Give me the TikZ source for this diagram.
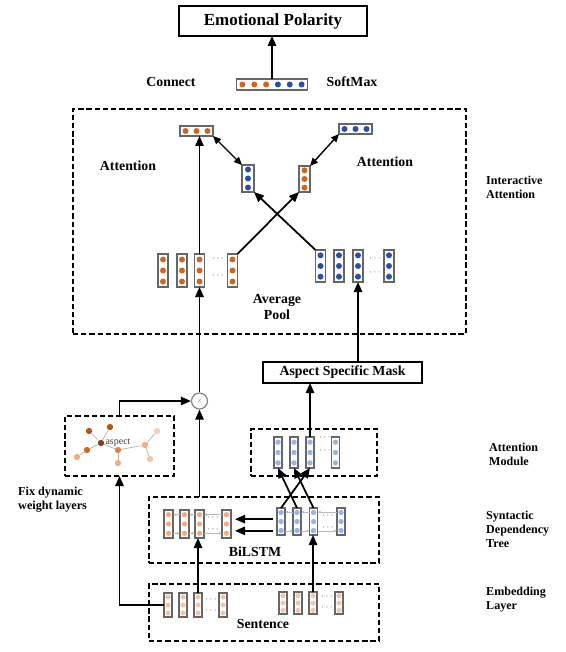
\documentclass[tikz,border=0pt]{standalone}
\usepackage{fontspec}
\setmainfont{Liberation Serif}
\usetikzlibrary{arrows.meta,positioning,calc}
\definecolor{polorange}{HTML}{D2651E}
\definecolor{polblue}{HTML}{2A4FA6}
\definecolor{lightblue}{HTML}{98B4E6}
\definecolor{peach}{HTML}{F0AE80}
\definecolor{palepeach}{HTML}{F4C4A4}
\definecolor{boxgray}{HTML}{666666}
\tikzset{
  lbl/.style={font=\bfseries\fontsize{11.8}{13.5}\selectfont, align=center},
  side/.style={font=\bfseries\fontsize{10.3}{12}\selectfont, align=left, anchor=west, inner sep=0},
  dbox/.style={draw, line width=0.9pt, dash pattern=on 4.5pt off 2.5pt, inner sep=0, outer sep=0},
  sbox/.style={draw, line width=1pt, inner sep=0, outer sep=0, align=center},
  vec/.style={draw=boxgray, fill=white, line width=1pt, inner sep=0, outer sep=0},
  arrow/.style={-{Triangle[length=3mm,width=2.5mm]}, line width=1.5pt},
  darrow/.style={{Triangle[length=2.4mm,width=2.1mm]}-{Triangle[length=2.4mm,width=2.1mm]}, line width=1.2pt},
  link/.style={gray!55, line width=0.5pt, -{Latex[length=0.9mm,width=0.9mm]}},
  etc/.style={font=\fontsize{7}{7}\selectfont, inner sep=0},
  gnode/.style={circle, inner sep=0, minimum size=0.19cm},
}
% dots inside a vector box
\newcommand{\coldots}[4]{%
  \foreach \k in {1,...,#3}{\fill[#2] ($(#1.south)!{(\k-0.5)/#3}!(#1.north)$) circle (#4);}}
\newcommand{\rowdots}[4]{%
  \foreach \k in {1,...,#3}{\fill[#2] ($(#1.west)!{(\k-0.5)/#3}!(#1.east)$) circle (#4);}}

\begin{document}
\begin{tikzpicture}[x=0.03cm, y=-0.03cm]
\useasboundingbox (0,0) rectangle (565,652);

% output
\node[sbox, minimum width=5.64cm, minimum height=0.9cm, font=\bfseries\fontsize{14.5}{16}\selectfont] (pol) at (273,21) {Emotional Polarity};
\node[vec, minimum width=2.13cm, minimum height=0.33cm] (smx) at (272,84.5) {};
\foreach \k in {1,2,3}{\fill[polorange] ($(smx.west)!{(\k-0.5)/6}!(smx.east)$) circle (0.09cm);}
\foreach \k in {4,5,6}{\fill[polblue] ($(smx.west)!{(\k-0.5)/6}!(smx.east)$) circle (0.09cm);}
\node[lbl] (connect) at (171,82) {Connect};
\node[lbl] (softmax) at (352,82) {SoftMax};
\draw[arrow] (smx.north) -- (smx.north |- pol.south);

% interactive attention
\node[dbox, minimum width=11.79cm, minimum height=6.75cm] (ia) at (269.5,221.5) {};
\node[vec, minimum width=0.99cm, minimum height=0.3cm] (otop) at (196.5,131) {};
\rowdots{otop}{polorange}{3}{0.09cm}
\node[vec, minimum width=0.99cm, minimum height=0.3cm] (btop) at (355.5,129) {};
\rowdots{btop}{polblue}{3}{0.09cm}
\node[vec, minimum width=0.36cm, minimum height=0.81cm] (bmid) at (248,178.5) {};
\coldots{bmid}{polblue}{3}{0.09cm}
\node[vec, minimum width=0.33cm, minimum height=0.78cm] (omid) at (304.5,179) {};
\coldots{omid}{polorange}{3}{0.09cm}
\node[lbl] (attl) at (128,166) {Attention};
\node[lbl] (attr) at (385,162) {Attention};

\foreach \n/\x in {o1/163,o2/182,o3/199.5,o4/232.5}{
  \node[vec, minimum width=0.3cm, minimum height=0.99cm] (\n) at (\x,270.5) {};
  \coldots{\n}{polorange}{3}{0.09cm}
}
\node[etc] at (218,259) {$\cdots$};
\node[etc] at (218,276) {$\cdots$};
\foreach \n/\x in {b1/320.5,b2/339,b3/358,b4/389}{
  \node[vec, minimum width=0.3cm, minimum height=0.96cm] (\n) at (\x,266) {};
  \coldots{\n}{polblue}{3}{0.09cm}
}
\node[etc] at (375,259) {$\cdots$};
\node[etc] at (375,273) {$\cdots$};
\node[lbl] (pool) at (277,307) {Average\\Pool};

\draw[arrow] (o3.north) -- (o3.north |- otop.south);
\draw[arrow] (o4.north east) -- (omid.south west);
\draw[arrow] (b1.north west) -- (bmid.south east);
\draw[darrow] (otop.south east) -- (bmid.north west);
\draw[darrow] (omid.north east) -- (btop.south west);

% aspect mask and weighting
\node[sbox, minimum width=4.77cm, minimum height=0.63cm, lbl] (asm) at (342.5,372.5) {Aspect Specific Mask};
\node[draw=gray, line width=1pt, circle, minimum size=0.48cm, inner sep=0, font=\fontsize{4}{4}\selectfont, text=gray] (mul) at (199.5,401) {$\times$};
\draw[arrow] (mul.north) -- (o3.south);
\draw[arrow] (asm.north -| b3) -- (b3.south);

% attention module
\node[dbox, minimum width=3.78cm, minimum height=1.41cm] (am) at (314,452.5) {};
\foreach \n/\x in {a1/278,a2/294,a3/310,a4/335.5}{
  \node[vec, minimum width=0.24cm, minimum height=0.93cm] (\n) at (\x,452.5) {};
  \coldots{\n}{lightblue}{3}{0.08cm}
}
\node[etc] at (325,438) {$\cdots$};
\node[etc] at (325,451) {$\cdots$};
\draw[arrow] (a3.north) -- (a3.north |- asm.south);

% dependency graph
\node[dbox, minimum width=3.27cm, minimum height=1.8cm] (gr) at (119.5,446) {};
\node[gnode, fill=black!30!polorange!90!black] (hub) at (101,443) {};
\node[gnode, fill=polorange!85!black] (g1) at (110,427) {};
\node[gnode, fill=polorange!85!black] (g2) at (89,431) {};
\node[gnode, fill=polorange] (g3) at (87,450) {};
\node[gnode, fill=peach] (g4) at (77,457) {};
\node[gnode, fill=polorange!80!white] (g5) at (118,450) {};
\node[gnode, fill=peach] (g6) at (118,463) {};
\node[gnode, fill=peach] (g7) at (145,445) {};
\node[gnode, fill=palepeach!80!white] (g8) at (157,431) {};
\node[gnode, fill=palepeach] (g9) at (150,459) {};
\foreach \a/\b in {hub/g1,hub/g2,hub/g3,g3/g4,hub/g5,g5/g6,g5/g7,g7/g8,g7/g9}
  \draw[gray!60, line width=0.6pt] (\a) -- (\b);
\node[font=\fontsize{8.5}{8.5}\selectfont, text=black!75, inner sep=0] (asp) at (118,443) {aspect};
\draw[arrow] (gr.north) |- (mul.west);

% BiLSTM
\node[dbox, minimum width=6.9cm, minimum height=1.98cm] (bl) at (264,530) {};
\foreach \n/\x in {l1/168.5,l2/184.5,l3/199.5,l4/226.5}{
  \node[vec, minimum width=0.27cm, minimum height=0.84cm] (\n) at (\x,524) {};
  \coldots{\n}{peach}{3}{0.08cm}
}
\node[etc] at (213,518) {$\cdots$};
\node[etc] at (213,530) {$\cdots$};
\foreach \n/\x in {r1/281,r2/297,r3/313.5,r4/341}{
  \node[vec, minimum width=0.24cm, minimum height=0.81cm] (\n) at (\x,521.5) {};
  \coldots{\n}{lightblue}{3}{0.08cm}
}
\node[etc] at (328,516) {$\cdots$};
\node[etc] at (328,528) {$\cdots$};
\foreach \a/\b in {l1/l2,l2/l3,l3/l4,r1/r2,r2/r3,r3/r4}{
  \draw[link] ([yshift=0.28cm]\b.west) -- ([yshift=0.28cm]\a.east);
  \draw[link] ([yshift=-0.28cm]\a.east) -- ([yshift=-0.28cm]\b.west);
}
\draw[arrow, shorten <=0.12cm, shorten >=0.12cm] ([yshift=0.07cm]r1.west) -- ([yshift=0.07cm]r1.west -| l4.east);
\draw[arrow, shorten <=0.12cm, shorten >=0.12cm] ([yshift=-0.28cm]r1.west) -- ([yshift=-0.28cm]r1.west -| l4.east);
\node[lbl] (bilstm) at (255,552) {BiLSTM};
\draw[arrow] (bl.north -| l3) -- (mul.south);
\draw[arrow] (r1.north) -- (a3.south);
\draw[arrow] (r2.north) -- (a1.south);
\draw[arrow] (r3.north) -- (a2.south);

% embedding
\node[dbox, minimum width=6.9cm, minimum height=1.71cm] (em) at (264,612.5) {};
\foreach \n/\x in {s1/168,s2/183,s3/198,s4/223}{
  \node[vec, minimum width=0.24cm, minimum height=0.72cm] (\n) at (\x,605) {};
  \coldots{\n}{palepeach}{3}{0.075cm}
}
\node[etc] at (211,600) {$\cdots$};
\node[etc] at (211,611) {$\cdots$};
\foreach \n/\x in {t1/283,t2/298,t3/313,t4/339}{
  \node[vec, minimum width=0.24cm, minimum height=0.66cm] (\n) at (\x,603) {};
  \coldots{\n}{palepeach}{3}{0.075cm}
}
\node[etc] at (327,597) {$\cdots$};
\node[etc] at (327,608) {$\cdots$};
\node[lbl] (sent) at (263,624) {Sentence};
\draw[arrow] (s3.north) -- (s3.north |- l3.south);
\draw[arrow] (t3.north) -- (t3.north |- r3.south);
\draw[arrow] (s1.west) -| (gr.south);

% layer names
\node[side] (lia) at (486,187) {Interactive\\Attention};
\node[side] (lam) at (489,454) {Attention\\Module};
\node[side] (lsd) at (486,529) {Syntactic\\Dependency\\Tree};
\node[side] (lem) at (486,599.5) {Embedding\\Layer};
\node[side, font=\bfseries\fontsize{10.4}{12}\selectfont] (lfix) at (18,500) {Fix dynamic\\weight layers};
\end{tikzpicture}
\end{document}
